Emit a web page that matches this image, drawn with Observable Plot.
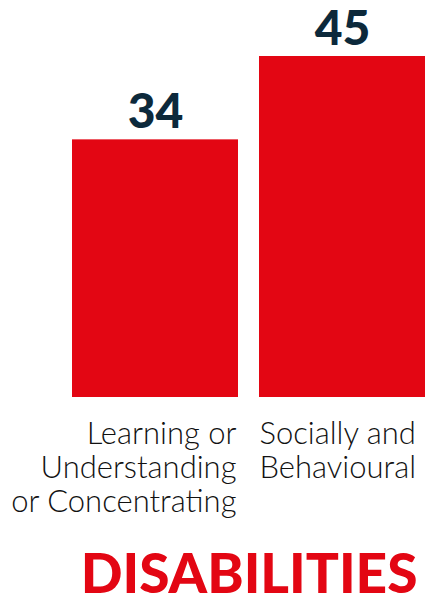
<!DOCTYPE html>
<html>
<head>
<meta charset="utf-8">
<script src="https://cdn.jsdelivr.net/npm/d3@7"></script>
<script src="https://cdn.jsdelivr.net/npm/@observablehq/plot@0.6"></script>
<style>
  html, body { margin: 0; padding: 0; background: #fff; }
  svg { overflow: visible; }
</style>
</head>
<body>
<div id="chart"></div>
<script>
const categories = ["Learning or\nUnderstanding\nor Concentrating", "Socially and\nBehavioural"];
const values = [34, 45];
const title = "DISABILITIES";

const RED = "#e30613";
const NAVY = "#0c293b";
const data = categories.map((c, i) => ({category: c, value: values[i]}));

const chart = Plot.plot({
  width: 425,
  height: 597,
  marginTop: 56,
  marginBottom: 200,
  marginLeft: 72,
  marginRight: 0,
  x: {domain: categories, paddingInner: 21 / 187, paddingOuter: 0, axis: null},
  y: {domain: [0, 45], axis: null},
  style: {fontFamily: "Lato, sans-serif", background: "#fff", overflow: "visible"},
  marks: [
    Plot.barY(data, {x: "category", y: "value", fill: RED}),
    Plot.text(data, {x: "category", y: "value", text: d => String(d.value), lineAnchor: "bottom", dy: -12,
      fontSize: 48, fontWeight: 900, fill: NAVY}),
    Plot.text(data.slice(0, 1), {x: "category", y: 0, text: "category", textAnchor: "end", dx: 81, dy: 22,
      lineAnchor: "top", fontSize: 31, fontWeight: 300, lineHeight: 34 / 31, fill: "#111"}),
    Plot.text(data.slice(1), {x: "category", y: 0, text: "category", textAnchor: "start", dx: -83, dy: 22,
      lineAnchor: "top", fontSize: 31, fontWeight: 300, lineHeight: 34 / 31, fill: "#111"}),
    Plot.text([title], {frameAnchor: "bottom-right", dx: -8, dy: 195, lineAnchor: "bottom",
      fontSize: 55, fontWeight: 900, fill: RED})
  ]
});
document.getElementById("chart").appendChild(chart);
</script>
</body>
</html>
